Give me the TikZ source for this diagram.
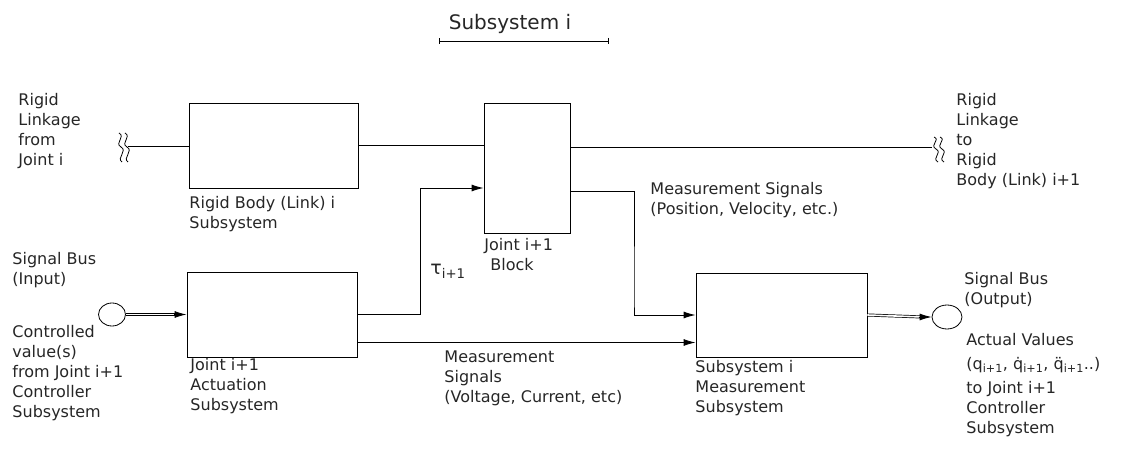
\documentclass[tikz,border=0pt]{standalone}
\usepackage{fontspec}
\setmainfont{DejaVu Sans}
\usetikzlibrary{arrows.meta,shapes.geometric}
\begin{document}
\begin{tikzpicture}[x=1pt,y=-1pt,
  line width=0.9pt,
  blk/.style={draw, rectangle, inner sep=0pt},
  lbl/.style={anchor=north west, inner sep=0pt, align=left, text=black!85,
     font=\fontsize{16}{20}\selectfont},
  bus/.style={draw, ellipse, inner sep=0pt, line width=0.8pt},
  arr/.style={-{Latex[length=12pt,width=7pt]}},
  dbl/.style={double, double distance=1.6pt, line width=0.7pt},
  squig/.style={line width=0.8pt}]
\useasboundingbox (0,0) rectangle (1141,457);

% title
\node[inner sep=0pt, text=black!85, font=\fontsize{20}{22}\selectfont] (title) at (510,24) {Subsystem i};
\draw[line width=0.7pt, {Bar[width=6pt]}-{Bar[width=6pt]}] (439,41) -- (609,41);

% blocks
\node[blk, minimum width=169pt, minimum height=85pt] (A) at (273.5,145.5) {};
\node[blk, minimum width=86pt, minimum height=130pt] (B) at (527,168) {};
\node[blk, minimum width=170pt, minimum height=85pt] (C) at (272,314.5) {};
\node[blk, minimum width=171pt, minimum height=84pt] (D) at (781.5,315) {};

% buses
\node[bus, minimum width=27pt, minimum height=23pt] (inbus) at (112,314.5) {};
\node[bus, minimum width=30pt, minimum height=24pt] (outbus) at (947,317) {};

% squiggles
\coordinate (lsq) at (128,146);
\coordinate (rsq) at (932,147);
\draw[squig] (119,133) .. controls (126,137) and (114,143) .. (121,147) .. controls (128,151) and (116,158) .. (122,162);
\draw[squig] (125,133) .. controls (132,137) and (120,143) .. (127,147) .. controls (134,151) and (122,158) .. (128,162);
\draw[squig] (934,137) .. controls (941,140) and (929,145) .. (936,149) .. controls (943,153) and (931,158) .. (938,162);
\draw[squig] (940,137) .. controls (947,140) and (935,145) .. (942,149) .. controls (949,153) and (937,158) .. (944,162);

% rigid linkage line
\draw (lsq) -- (lsq -| A.west);
\draw (A.east) -- (A.east -| B.west);
\draw (B.east |- rsq) -- (rsq);

% tau into block B
\draw[arr] (C.east) -- (420,314.5) |- ([yshift=-20pt]B.west);
% measurement (position) into D
\draw[arr] ([yshift=-23pt]B.east) -| (634,300) |- (D.west);
% measurement (voltage) into D
\draw[arr] ([yshift=-28pt]C.east) -- ([yshift=-28pt]C.east -| D.west);

% buses
\draw[dbl] (inbus.east) -- ([xshift=-9pt]inbus.east -| C.west);
\draw[arr] ([xshift=-13pt]inbus.east -| C.west) -- (inbus.east -| C.west);
\draw[dbl] (D.east) -- ([xshift=-9pt]outbus.west);
\draw[arr] ([xshift=-13pt]outbus.west) -- (outbus.west);

% labels
\node[lbl] (l1) at (18,93) {Rigid\\Linkage\\from\\Joint i};
\node[lbl] (l2) at (189,196) {Rigid Body (Link) i\\Subsystem};
\node[lbl] (l3) at (484,238) {Joint i+1\\\hspace*{6pt}Block};
\node[lbl, font=\fontsize{19}{20}\selectfont] (tau) at (430,264) {τ\textsubscript{i+1}};
\node[lbl] (l4) at (650,182) {Measurement Signals\\(Position, Velocity, etc.)};
\node[lbl] (l5) at (956,93) {Rigid\\Linkage\\to\\Rigid\\Body (Link) i+1};
\node[lbl] (l6) at (12,252) {Signal Bus\\(Input)};
\node[lbl] (l7) at (12,325) {Controlled\\value(s)\\from Joint i+1\\Controller\\Subsystem};
\node[lbl] (l8) at (190,358) {Joint i+1\\Actuation\\Subsystem};
\node[lbl] (l9) at (444,350) {Measurement\\Signals\\(Voltage, Current, etc)};
\node[lbl] (l10) at (695,360) {Subsystem i\\Measurement\\Subsystem};
\node[lbl] (l11) at (964,272) {Signal Bus\\(Output)};
\node[lbl] (l12) at (966,333) {Actual Values\\[4pt](q\textsubscript{i+1}, \.{q}\textsubscript{i+1}, \"{q}\textsubscript{i+1}..)\\[4pt]to Joint i+1\\Controller\\Subsystem};
\end{tikzpicture}
\end{document}
